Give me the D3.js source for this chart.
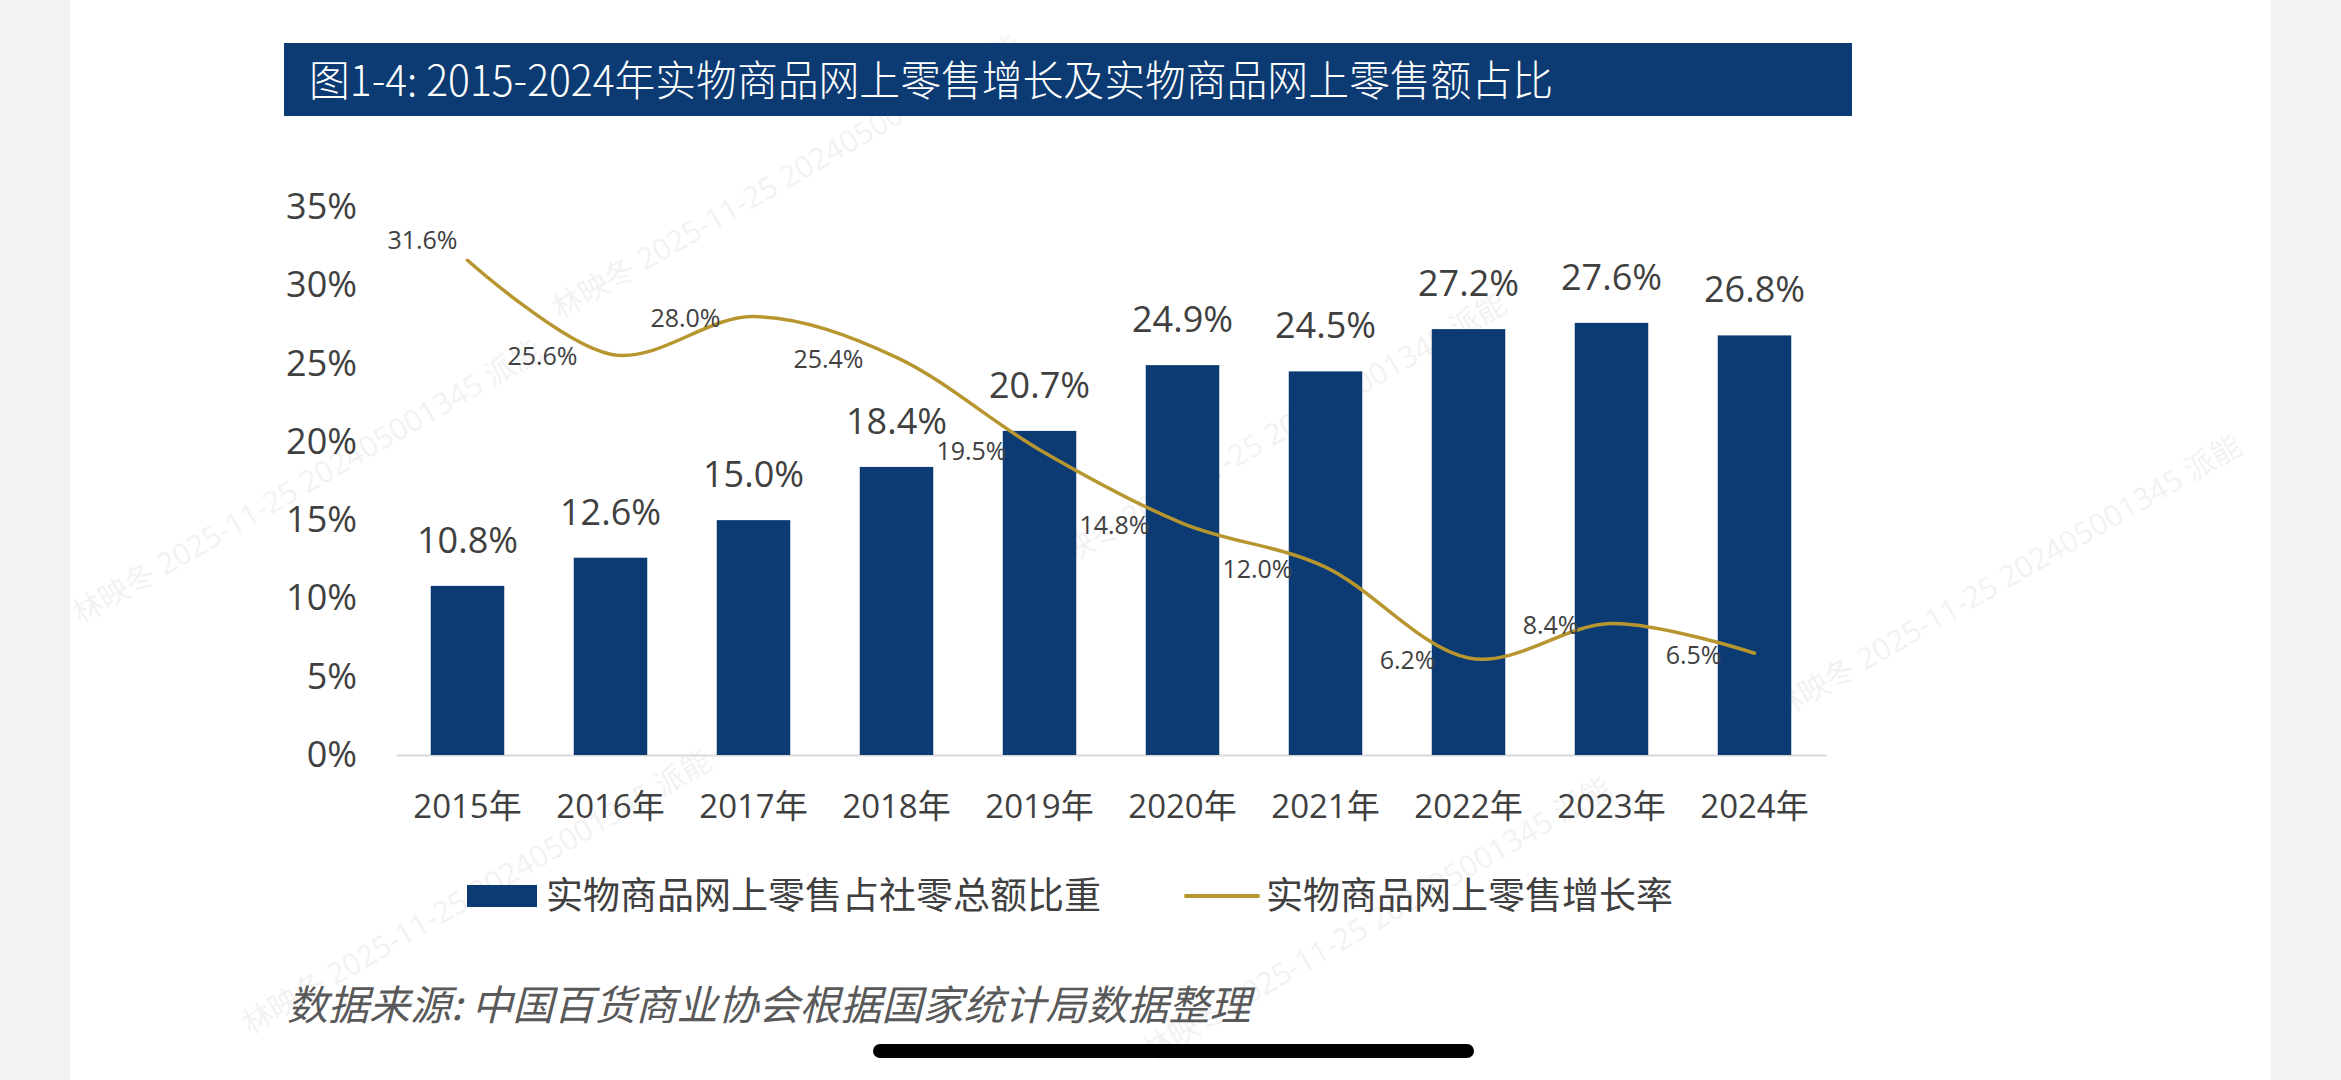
<!DOCTYPE html>
<html>
<head>
<meta charset="utf-8">
<script src="https://cdn.jsdelivr.net/npm/d3@7"></script>
<style>
  html, body { margin: 0; padding: 0; background: #f1f2f4; }
  svg { display: block; }
  text { font-family: "Open Sans", "Noto Sans CJK SC", sans-serif; }
</style>
</head>
<body>
<svg id="chart" width="2341" height="1080"></svg>
<script>
// --- data ------------------------------------------------------------------
const years = ["2015年", "2016年", "2017年", "2018年", "2019年", "2020年", "2021年", "2022年", "2023年", "2024年"];
const shareOfRetail = [10.8, 12.6, 15.0, 18.4, 20.7, 24.9, 24.5, 27.2, 27.6, 26.8]; // bars, %
const onlineGrowth  = [31.6, 25.6, 28.0, 25.4, 19.5, 14.8, 12.0, 6.2, 8.4, 6.5];    // line, %
const yTicks = [0, 5, 10, 15, 20, 25, 30, 35];
const seriesNames = ["实物商品网上零售占社零总额比重", "实物商品网上零售增长率"];
const titleText  = "图1-4: 2015-2024年实物商品网上零售增长及实物商品网上零售额占比";
const sourceText = "数据来源: 中国百货商业协会根据国家统计局数据整理";
const watermarkText = "林映冬 2025-11-25 202405001345 派能";

// --- look ------------------------------------------------------------------
const NAVY = '#0b3b72', GOLD = '#b8962f', INK = '#404040';
const W = 2341, H = 1080;
const plot = { left: 396, right: 1826, top: 207, bottom: 755 };

const svg = d3.select('#chart');

// page sheet (screenshot has grey margins left/right)
svg.append('rect').attr('x', 70).attr('y', 0).attr('width', 2271 - 70).attr('height', H).attr('fill', '#fff');

// faint watermark tiles (kept inside the sheet)
const wmSpots = [[80, 625], [560, 320], [1045, 578], [1780, 720], [250, 1035], [1150, 1062]];
svg.append('g').selectAll('text')
  .data(wmSpots).join('text')
  .attr('transform', d => `translate(${d[0]},${d[1]}) rotate(-30)`)
  .attr('font-size', 30)
  .attr('fill', '#9a9a9a')
  .attr('opacity', 0.12)
  .text(watermarkText);

// --- title bar -------------------------------------------------------------
svg.append('rect').attr('x', 284).attr('y', 43).attr('width', 1568).attr('height', 73).attr('fill', NAVY);
svg.append('text')
  .attr('x', 309).attr('y', 81).attr('dy', '0.35em')
  .attr('fill', '#fff')
  .attr('font-size', 42)
  .attr('font-weight', 300)
  .style('font-family', '"Noto Sans CJK SC", sans-serif')
  .attr('textLength', 1244).attr('lengthAdjust', 'spacingAndGlyphs')
  .text(titleText);

// --- scales ----------------------------------------------------------------
const x = d3.scaleBand().domain(years).range([plot.left, plot.right])
  .paddingInner(0.486).paddingOuter(0.243);
const y = d3.scaleLinear().domain([0, 35]).range([plot.bottom, plot.top]);
const cx = d => x(d) + x.bandwidth() / 2;

// y axis (labels only)
const gy = svg.append('g').attr('transform', `translate(${plot.left},0)`)
  .call(d3.axisLeft(y).tickValues(yTicks).tickSize(0).tickPadding(39).tickFormat(d => d + '%'));
gy.select('.domain').remove();
gy.selectAll('text').attr('font-size', 36).attr('fill', INK).style('font-family', null);

// x axis
const gx = svg.append('g').attr('transform', `translate(0,${plot.bottom})`)
  .call(d3.axisBottom(x).tickSize(0).tickPadding(40));
gx.select('.domain').attr('stroke', '#d9d9d9').attr('stroke-width', 2);
gx.selectAll('text').attr('font-size', 33).attr('fill', INK).style('font-family', null);

// --- bars ------------------------------------------------------------------
const bars = years.map((yr, i) => ({ yr, v: shareOfRetail[i] }));
svg.append('g').selectAll('rect')
  .data(bars).join('rect')
  .attr('x', d => x(d.yr))
  .attr('y', d => y(d.v))
  .attr('width', x.bandwidth())
  .attr('height', d => y(0) - y(d.v))
  .attr('fill', NAVY);

svg.append('g').selectAll('text')
  .data(bars).join('text')
  .attr('x', d => cx(d.yr))
  .attr('y', d => y(d.v) - 33)
  .attr('text-anchor', 'middle')
  .attr('font-size', 36)
  .attr('fill', INK)
  .text(d => d.v.toFixed(1) + '%');

// --- growth line -----------------------------------------------------------
const pts = years.map((yr, i) => ({ yr, v: onlineGrowth[i] }));
const line = d3.line().x(d => cx(d.yr)).y(d => y(d.v)).curve(d3.curveCardinal.tension(0));
svg.append('path').datum(pts)
  .attr('d', line)
  .attr('fill', 'none')
  .attr('stroke', GOLD)
  .attr('stroke-width', 3.5)
  .attr('stroke-linecap', 'round');

// labels sit to the left of each point; first one nudged up-left like Excel did
svg.append('g').selectAll('text')
  .data(pts).join('text')
  .attr('x', (d, i) => cx(d.yr) - (i === 0 ? 10 : 33))
  .attr('y', (d, i) => y(d.v) + (i === 0 ? -20 : 2))
  .attr('dy', '0.35em')
  .attr('text-anchor', 'end')
  .attr('font-size', 25)
  .attr('fill', INK)
  .text(d => d.v.toFixed(1) + '%');

// --- legend ----------------------------------------------------------------
const lg = svg.append('g');
lg.append('rect').attr('x', 467).attr('y', 885).attr('width', 70).attr('height', 22).attr('fill', NAVY);
lg.append('text').attr('x', 546).attr('y', 896).attr('dy', '0.35em')
  .attr('font-size', 37).attr('fill', INK).text(seriesNames[0]);
lg.append('line').attr('x1', 1186).attr('x2', 1258).attr('y1', 896).attr('y2', 896)
  .attr('stroke', GOLD).attr('stroke-width', 4).attr('stroke-linecap', 'round');
lg.append('text').attr('x', 1266).attr('y', 896).attr('dy', '0.35em')
  .attr('font-size', 37).attr('fill', INK).text(seriesNames[1]);

// --- source note -----------------------------------------------------------
svg.append('text')
  .attr('x', 287).attr('y', 1006).attr('dy', '0.35em')
  .attr('font-size', 41)
  .attr('font-style', 'italic')
  .attr('fill', '#595959')
  .style('font-family', '"Noto Sans CJK SC", sans-serif')
  .text(sourceText);

// phone home indicator from the screenshot
svg.append('rect').attr('x', 873).attr('y', 1044).attr('width', 601).attr('height', 14)
  .attr('rx', 7).attr('fill', '#000');
</script>
</body>
</html>
